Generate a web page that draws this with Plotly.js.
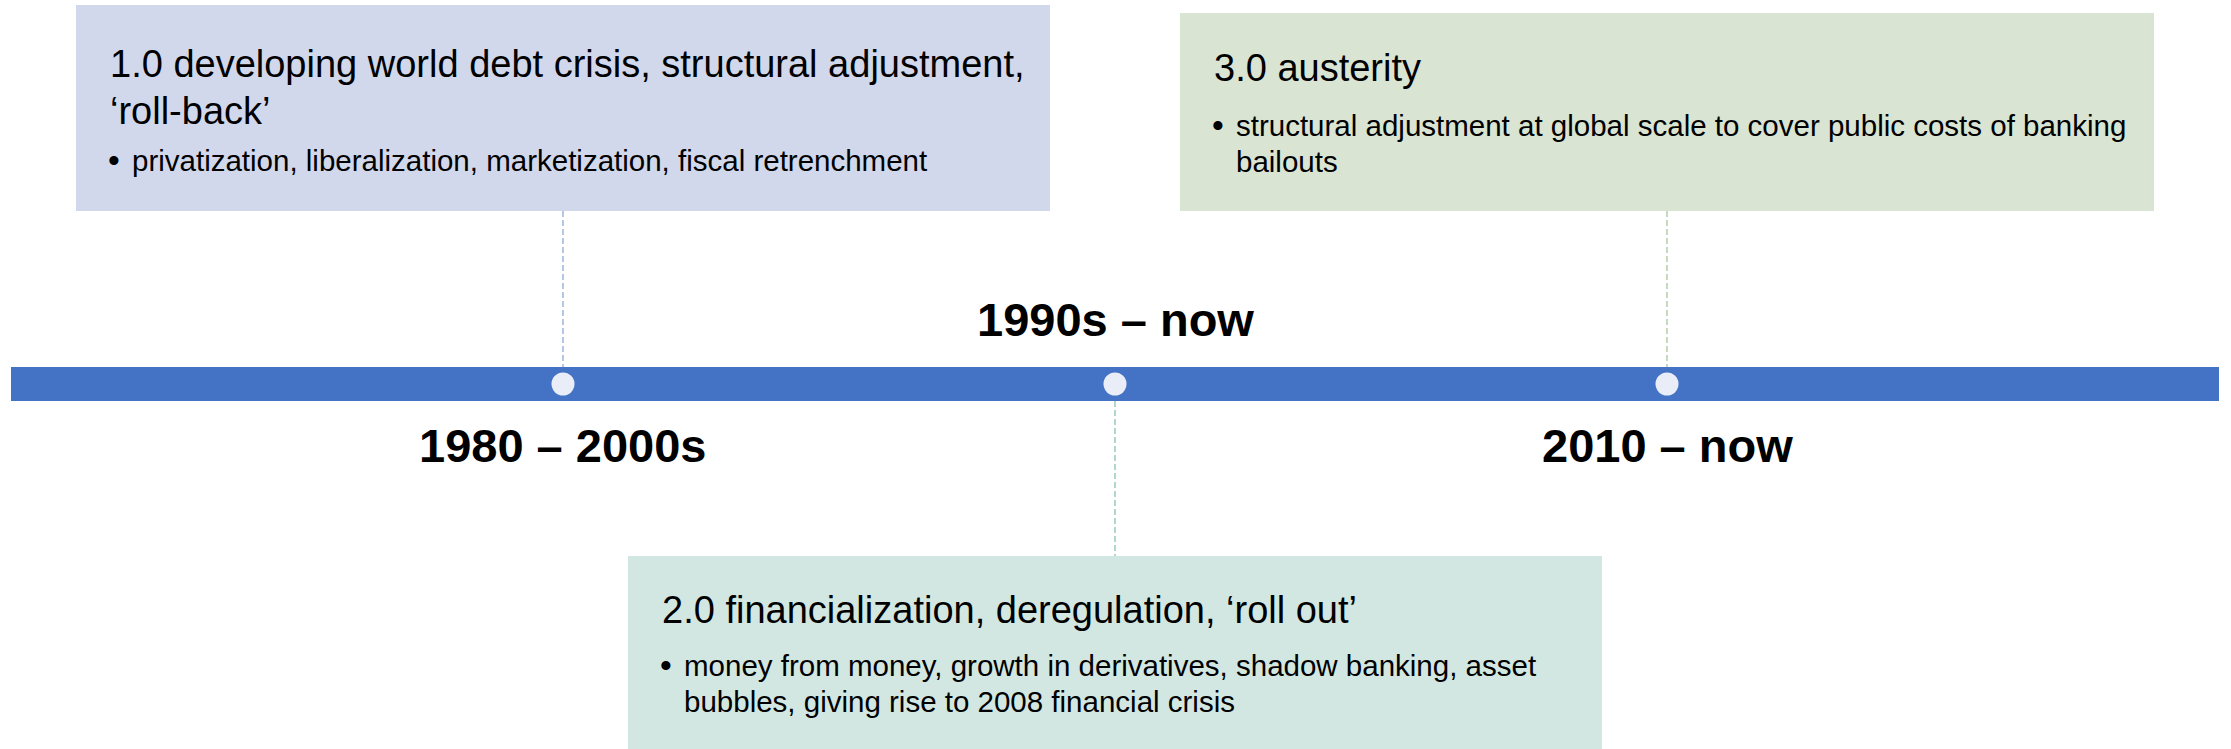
<!DOCTYPE html>
<html>
<head>
<meta charset="utf-8">
<script src="https://cdn.plot.ly/plotly-3.0.1.min.js"></script>
<style>
  html, body { margin: 0; padding: 0; background: #ffffff; }
  #chart { width: 2231px; height: 749px; }
</style>
</head>
<body>
<div id="chart"></div>
<script>
// ---------- data ----------
const phases = ['1.0', '2.0', '3.0'];
const periods = ['1980 – 2000s', '1990s – now', '2010 – now'];
const titleLines = [
  ['1.0 developing world debt crisis, structural adjustment,', '‘roll-back’'],
  ['2.0 financialization, deregulation, ‘roll out’'],
  ['3.0 austerity']
];
const bulletLines = [
  ['privatization, liberalization, marketization, fiscal retrenchment'],
  ['money from money, growth in derivatives, shadow banking, asset', 'bubbles, giving rise to 2008 financial crisis'],
  ['structural adjustment at global scale to cover public costs of banking', 'bailouts']
];

// ---------- styles / layout constants ----------
const W = 2231, H = 749;
const PX_PER_UNIT = 552;          // pixels per timeline step
const X0_PX = 11;                 // pixel position of timeline start (x = 0)
const BAR_TOP = 367, BAR_BOTTOM = 401, BAR_MID = 384;
const BOX_HALF = 487 / PX_PER_UNIT;
const TEXT_INSET = 32 / PX_PER_UNIT;
const BULLET_INDENT = 54 / PX_PER_UNIT;
const boxFill = ['#d2d8eb', '#d3e7e2', '#d9e4d3'];
const connColor = ['#8eaadb', '#86c2b3', '#a9c79c'];
const boxGeom = [
  {top: 5,   bottom: 211, titleY: 64,  bulletY: 160},
  {top: 556, bottom: 760, titleY: 610, bulletY: 665},
  {top: 13,  bottom: 211, titleY: 68,  bulletY: 125}
];
const TITLE_LH = 47, BULLET_LH = 36;
const FONT = '"Liberation Sans", Arial, sans-serif';
const TITLE_SIZE = 38, BULLET_SIZE = 29.5, LABEL_SIZE = 47;

const xs = phases.map((_, i) => i + 1);
const above = xs.map((_, i) => i % 2 === 0);

const shapes = [];
const annotations = [];

// timeline bar
shapes.push({
  type: 'rect', xref: 'x', yref: 'y',
  x0: 0, x1: phases.length + 1, y0: BAR_TOP, y1: BAR_BOTTOM,
  fillcolor: '#4472c4', line: {width: 0}, layer: 'below'
});

xs.forEach((x, i) => {
  const g = boxGeom[i];
  // box
  shapes.push({
    type: 'rect', xref: 'x', yref: 'y',
    x0: x - BOX_HALF, x1: x + BOX_HALF, y0: g.top, y1: g.bottom,
    fillcolor: boxFill[i], line: {width: 0}, layer: 'below'
  });
  // connector
  shapes.push({
    type: 'line', xref: 'x', yref: 'y',
    x0: x, x1: x,
    y0: above[i] ? g.bottom : BAR_BOTTOM,
    y1: above[i] ? BAR_TOP : g.top,
    line: {color: connColor[i], width: 1.3, dash: '6px,3px'}, layer: 'below'
  });
  // titles
  titleLines[i].forEach((t, k) => {
    annotations.push({
      xref: 'x', yref: 'y', x: x - BOX_HALF + TEXT_INSET, y: g.titleY + k * TITLE_LH,
      xanchor: 'left', yanchor: 'middle', showarrow: false, text: t,
      font: {family: FONT, size: TITLE_SIZE, color: '#000000'}
    });
  });
  // bullets
  bulletLines[i].forEach((t, k) => {
    if (k === 0) {
      annotations.push({
        xref: 'x', yref: 'y', x: x - BOX_HALF + TEXT_INSET - 2 / PX_PER_UNIT, y: g.bulletY,
        xanchor: 'left', yanchor: 'middle', showarrow: false, text: '•',
        font: {family: FONT, size: BULLET_SIZE + 4, color: '#000000'}
      });
    }
    annotations.push({
      xref: 'x', yref: 'y', x: x - BOX_HALF + BULLET_INDENT, y: g.bulletY + k * BULLET_LH,
      xanchor: 'left', yanchor: 'middle', showarrow: false, text: t,
      font: {family: FONT, size: BULLET_SIZE, color: '#000000'}
    });
  });
  // period label (opposite side of the box)
  annotations.push({
    xref: 'x', yref: 'y', x: x, y: above[i] ? 445 : 319,
    xanchor: 'center', yanchor: 'middle', showarrow: false, text: '<b>' + periods[i] + '</b>',
    font: {family: FONT, size: LABEL_SIZE, color: '#000000'}
  });
});

const nodes = {
  type: 'scatter', mode: 'markers',
  x: xs, y: xs.map(() => BAR_MID),
  marker: {size: 23, color: '#e9edf7', line: {width: 0}},
  hoverinfo: 'skip', showlegend: false
};

const layout = {
  width: W, height: H,
  margin: {l: 0, r: 0, t: 0, b: 0, pad: 0},
  paper_bgcolor: '#ffffff', plot_bgcolor: '#ffffff',
  xaxis: {range: [-X0_PX / PX_PER_UNIT, (W - X0_PX) / PX_PER_UNIT], visible: false, fixedrange: true},
  yaxis: {range: [H, 0], visible: false, fixedrange: true},
  shapes: shapes,
  annotations: annotations,
  showlegend: false
};

Plotly.newPlot('chart', [nodes], layout, {staticPlot: true, displayModeBar: false});
</script>
</body>
</html>
